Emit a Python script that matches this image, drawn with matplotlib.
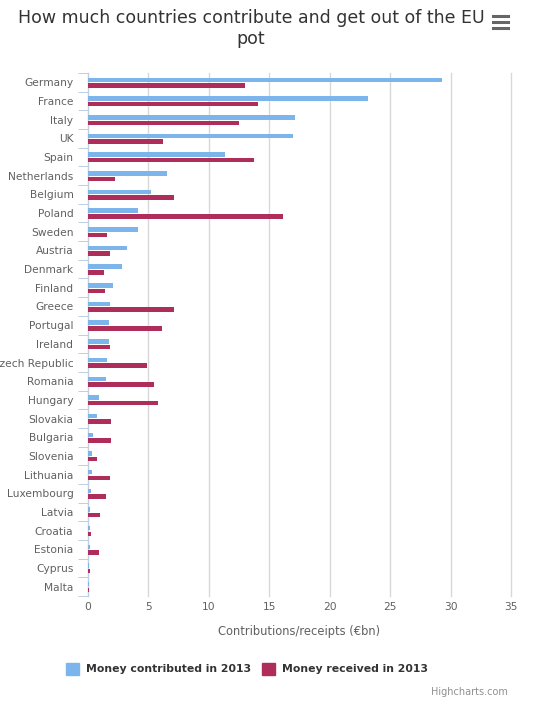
import matplotlib.pyplot as plt
from matplotlib.lines import Line2D
from matplotlib.patches import Rectangle
import numpy as np

countries = ["Germany", "France", "Italy", "UK", "Spain", "Netherlands", "Belgium",
             "Poland", "Sweden", "Austria", "Denmark", "Finland", "Greece", "Portugal",
             "Ireland", "Czech Republic", "Romania", "Hungary", "Slovakia", "Bulgaria",
             "Slovenia", "Lithuania", "Luxembourg", "Latvia", "Croatia", "Estonia",
             "Cyprus", "Malta"]
contributed = [29.3, 23.2, 17.1, 17.0, 11.3, 6.5, 5.2, 4.1, 4.1, 3.2, 2.85, 2.1, 1.85,
               1.75, 1.7, 1.6, 1.45, 0.95, 0.77, 0.44, 0.36, 0.36, 0.28, 0.2, 0.2, 0.2,
               0.11, 0.07]
received = [13.0, 14.1, 12.5, 6.2, 13.7, 2.2, 7.1, 16.1, 1.6, 1.85, 1.35, 1.4, 7.15,
            6.1, 1.85, 4.85, 5.5, 5.8, 1.93, 1.93, 0.77, 1.85, 1.52, 1.0, 0.28, 0.94,
            0.2, 0.11]
x_ticks = [0, 5, 10, 15, 20, 25, 30, 35]

W, H = 542, 714
blue = "#7cb5ec"
red = "#ae2d5b"

fig = plt.figure(figsize=(W / 100, H / 100), dpi=100)

# plot area in pixels
left, right, top, bottom = 88, 511, 73, 596
ax = fig.add_axes([left / W, 1 - bottom / H, (right - left) / W, (bottom - top) / H])

n = len(countries)
y = np.arange(n)
bh = 0.24
ax.barh(y - 0.13, contributed, height=bh, color=blue, zorder=3)
ax.barh(y + 0.17, received, height=bh, color=red, zorder=3)

ax.set_xlim(0, 35)
ax.set_ylim(n - 0.5, -0.5)

for t in x_ticks[1:]:
    ax.axvline(t, color="#d8d8d8", lw=1, zorder=1, clip_on=False)

for s in ["top", "right", "bottom"]:
    ax.spines[s].set_visible(False)
ax.spines["left"].set_color("#c0d0e0")
ax.spines["left"].set_linewidth(1)

# category ticks between rows, labels centred on rows
ax.set_yticks(np.arange(-0.5, n, 1))
ax.set_yticklabels([])
ax.tick_params(axis="y", which="major", length=7.2, color="#c0d0e0", width=0.72)
ax.set_yticks(y, minor=True)
ax.set_yticklabels(countries, minor=True, fontsize=7.7, color="#606060")
ax.tick_params(axis="y", which="minor", length=0, pad=10.5)

ax.set_xticks(x_ticks)
ax.set_xticklabels([str(t) for t in x_ticks], fontsize=7.7, color="#606060")
ax.tick_params(axis="x", length=0, pad=4)

ax.set_xlabel("Contributions/receipts (€bn)", fontsize=8.3, color="#606060", labelpad=10)

fig.text(251 / W, 1 - 18 / H, "How much countries contribute and get out of the EU",
         ha="center", va="center", fontsize=12.5, color="#333333")
fig.text(251 / W, 1 - 39 / H, "pot", ha="center", va="center",
         fontsize=12.5, color="#333333")

# menu icon
for yy in [16, 22, 28]:
    fig.add_artist(Line2D([493 / W, 508 / W], [1 - yy / H, 1 - yy / H],
                          color="#666666", lw=2.2, transform=fig.transFigure))

# legend
fig.add_artist(Rectangle((66 / W, 1 - 675 / H), 13 / W, 12 / H, color=blue,
                         transform=fig.transFigure))
fig.text(86 / W, 1 - 669 / H, "Money contributed in 2013", ha="left", va="center",
         fontsize=7.8, fontweight="bold", color="#333333")
fig.add_artist(Rectangle((262 / W, 1 - 675 / H), 13 / W, 12 / H, color=red,
                         transform=fig.transFigure))
fig.text(282 / W, 1 - 669 / H, "Money received in 2013", ha="left", va="center",
         fontsize=7.8, fontweight="bold", color="#333333")

fig.text(508 / W, 1 - 692 / H, "Highcharts.com", ha="right", va="center",
         fontsize=7, color="#909090")

fig.savefig("out.png", dpi=100)
